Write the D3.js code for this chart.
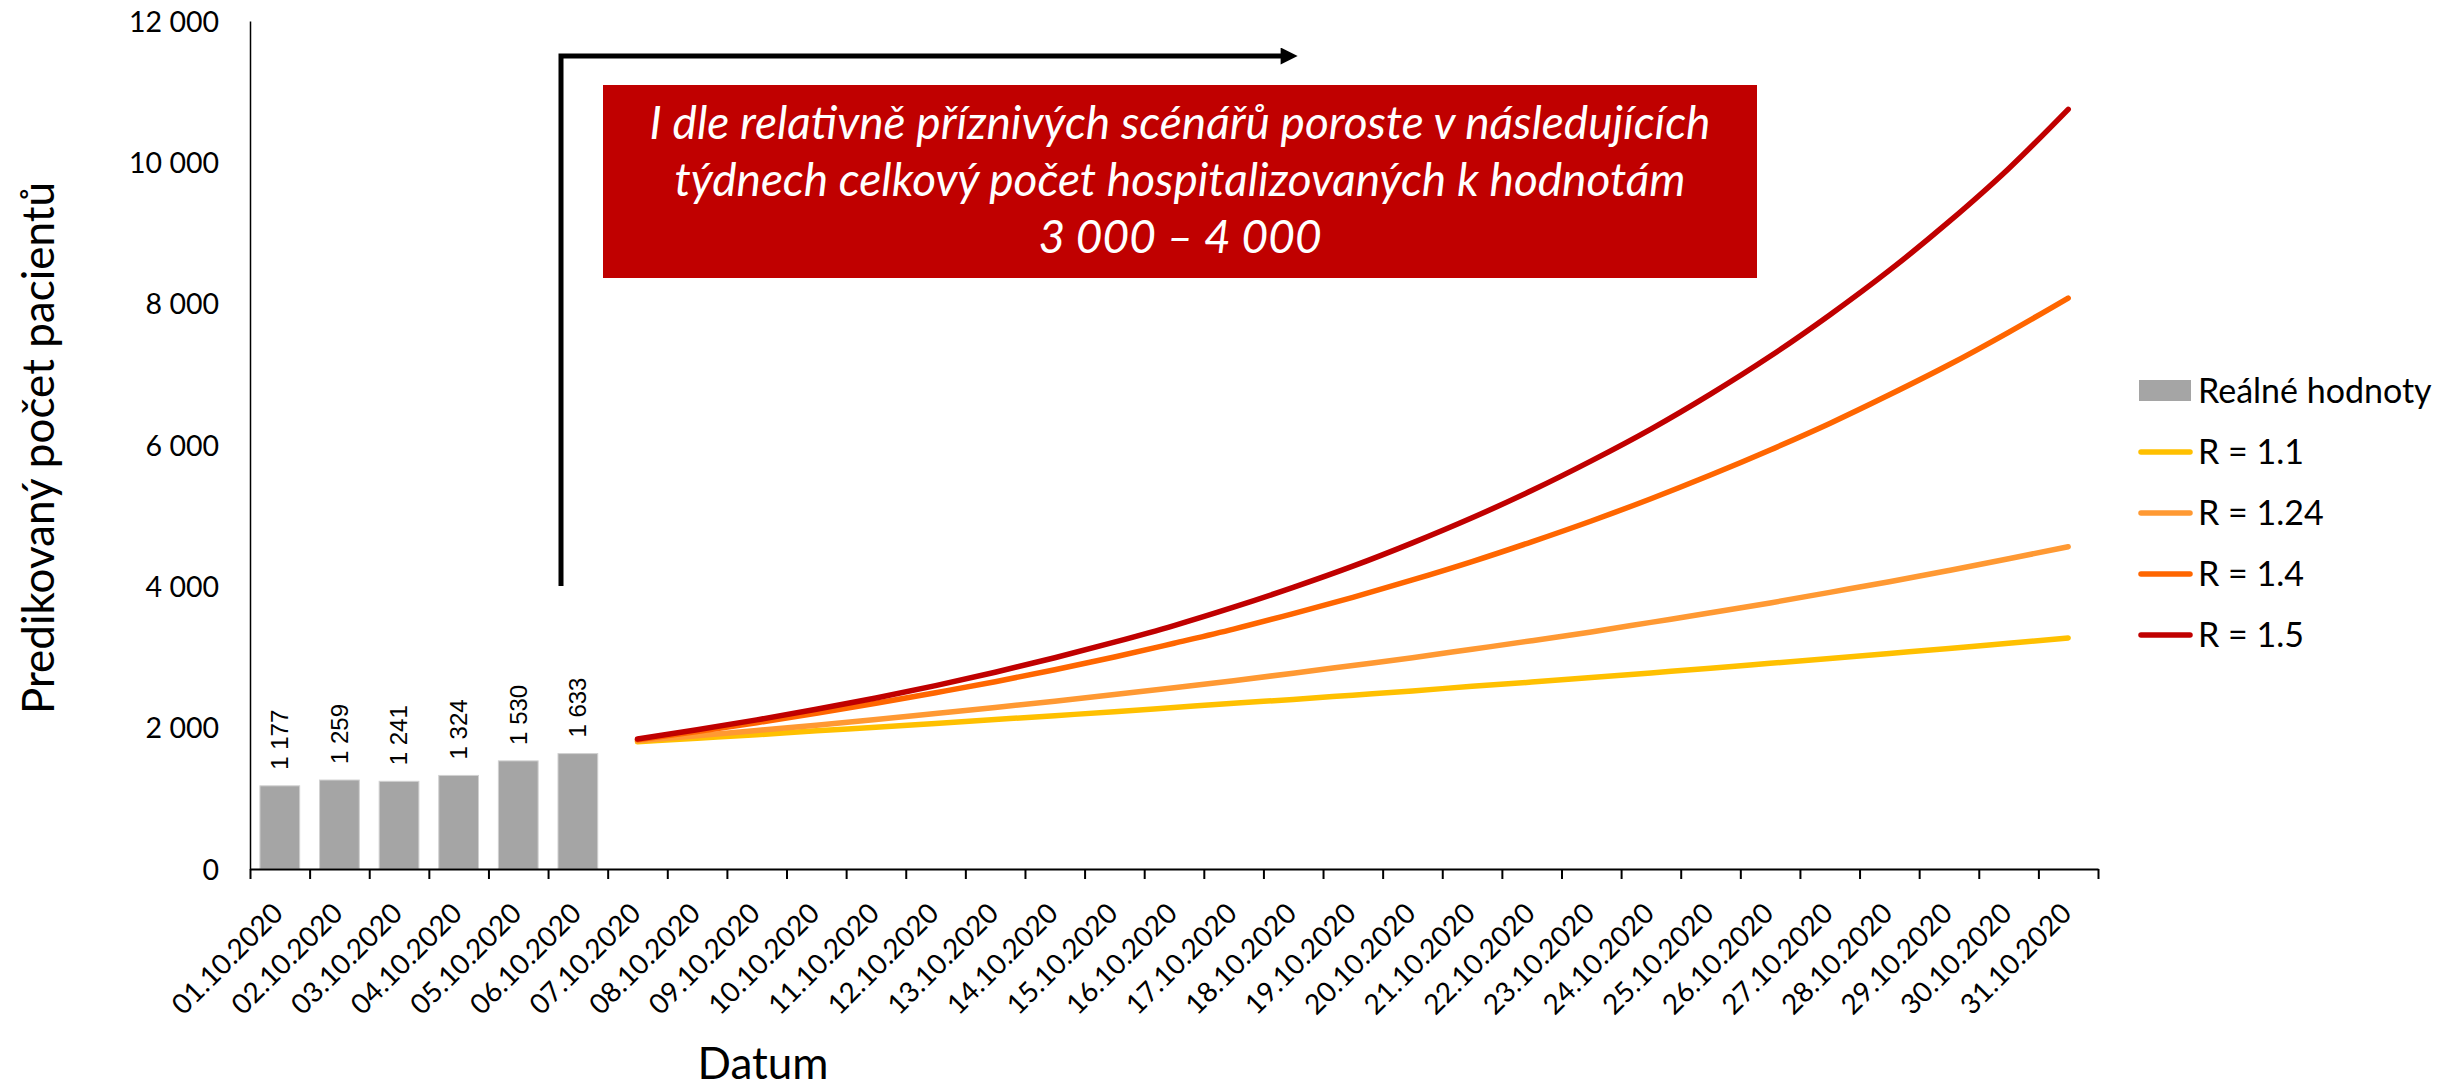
<!DOCTYPE html>
<html>
<head>
<meta charset="utf-8">
<script src="https://cdn.jsdelivr.net/npm/d3@7"></script>
<style>
  html, body { margin: 0; padding: 0; background: #ffffff; }
  svg { display: block; }
  text { font-family: Lato, "Open Sans", sans-serif; fill: #000; }
</style>
</head>
<body>
<script>
// ---------------- DATA ----------------
const dates = ["01.10.2020","02.10.2020","03.10.2020","04.10.2020","05.10.2020","06.10.2020","07.10.2020",
  "08.10.2020","09.10.2020","10.10.2020","11.10.2020","12.10.2020","13.10.2020","14.10.2020","15.10.2020",
  "16.10.2020","17.10.2020","18.10.2020","19.10.2020","20.10.2020","21.10.2020","22.10.2020","23.10.2020",
  "24.10.2020","25.10.2020","26.10.2020","27.10.2020","28.10.2020","29.10.2020","30.10.2020","31.10.2020"];
const realDates = ["01.10.2020","02.10.2020","03.10.2020","04.10.2020","05.10.2020","06.10.2020"];
const realValues = [1177, 1259, 1241, 1324, 1530, 1633];
const predDates = dates.slice(6); // 07.10 - 31.10
const r11  = [1800,1850,1900,1955,2005,2060,2115,2170,2225,2285,2345,2400,2460,2520,2585,2645,2710,2775,2840,2910,2980,3050,3120,3195,3270];
const r124 = [1815,1885,1960,2035,2115,2200,2285,2375,2470,2565,2665,2770,2880,2990,3110,3230,3355,3490,3625,3765,3915,4065,4225,4390,4560];
const r14  = [1830,1945,2070,2205,2345,2495,2650,2820,3000,3195,3395,3615,3845,4090,4350,4630,4925,5240,5575,5930,6305,6710,7135,7595,8080];
const r15  = [1840,1970,2110,2260,2420,2595,2785,2990,3210,3445,3705,3985,4285,4615,4970,5355,5775,6225,6720,7255,7840,8470,9160,9910,10750];
const seriesNames = ["R = 1.1","R = 1.24","R = 1.4","R = 1.5"];
const seriesColors = ["#FFC000","#FF9933","#FF6600","#C00000"];
const yTicks = [0,2000,4000,6000,8000,10000,12000];
const legendBarName = "Reálné hodnoty";
const yTitle = "Predikovaný počet pacientů";
const xTitle = "Datum";
const boxLines = ["I dle relativně příznivých scénářů poroste v následujících",
                  "týdnech celkový počet hospitalizovaných k hodnotám",
                  "3 000 – 4 000"];

// ---------------- LAYOUT ----------------
const W = 2443, H = 1089;
const svg = d3.select("body").append("svg").attr("width", W).attr("height", H);

const x0 = 250, x1 = 2098, yTop = 21, yBot = 869;
const x = d3.scaleBand().domain(dates).range([x0, x1]).paddingInner(1/3).paddingOuter(1/6);
const xEdge = d3.scaleLinear().domain([0, dates.length]).range([x0, x1]);
const y = d3.scaleLinear().domain([0, 12000]).range([yBot, yTop]);

const loc = d3.formatLocale({decimal: ",", thousands: " ", grouping: [3], currency: ["", ""]});
const fmt = loc.format(",d");

// Y axis
const yAxis = svg.append("g").attr("transform", `translate(${x0},0)`)
  .call(d3.axisLeft(y).tickValues(yTicks).tickSize(0).tickPadding(31).tickFormat(fmt));
yAxis.select(".domain").attr("stroke", "#000").attr("stroke-width", 1.5);
yAxis.selectAll("text").style("font-family", "Lato").style("font-size", "28.5px").attr("dy", "0.36em");

// Bars
svg.append("g").selectAll("rect").data(realValues).join("rect")
  .attr("x", (d, i) => x(realDates[i]))
  .attr("width", x.bandwidth())
  .attr("y", d => y(d))
  .attr("height", d => y(0) - y(d))
  .attr("fill", "#A5A5A5")
  .attr("stroke", "#D0D0D0").attr("stroke-width", 1);

// Bar labels
svg.append("g").selectAll("text").data(realValues).join("text")
  .attr("transform", (d, i) => `translate(${x(realDates[i]) + x.bandwidth()/2},${y(d) - 16}) rotate(-90)`)
  .attr("text-anchor", "start")
  .attr("dy", "0.35em")
  .style("font-family", "'Liberation Sans', Arial, sans-serif")
  .style("font-size", "24px")
  .text(d => fmt(d));

// X axis: ticks between categories
const xTickAxis = svg.append("g").attr("transform", `translate(0,${yBot})`)
  .call(d3.axisBottom(xEdge).tickValues(d3.range(0, dates.length + 1)).tickSize(10).tickSizeOuter(0).tickFormat(""));
xTickAxis.select(".domain").attr("stroke", "#000").attr("stroke-width", 2);
xTickAxis.selectAll(".tick line").attr("stroke", "#000").attr("stroke-width", 2);

// X labels
const xLab = svg.append("g").attr("transform", `translate(0,${yBot})`)
  .call(d3.axisBottom(x).tickSize(0));
xLab.select(".domain").remove();
xLab.selectAll("text")
  .attr("x", 0).attr("y", 0).attr("dy", 0)
  .attr("text-anchor", "end")
  .attr("transform", "translate(5,46) rotate(-45)")
  .style("font-family", "Lato").style("font-size", "28px");

// Lines
const allSeries = [r11, r124, r14, r15];
const line = d3.line()
  .x((d, i) => x(predDates[i]) + x.bandwidth()/2)
  .y(d => y(d))
  .curve(d3.curveMonotoneX);
svg.append("g").selectAll("path").data(allSeries).join("path")
  .attr("d", d => line(d))
  .attr("fill", "none")
  .attr("stroke", (d, i) => seriesColors[i])
  .attr("stroke-width", 5.5)
  .attr("stroke-linecap", "round")
  .attr("stroke-linejoin", "round");

// Arrow annotation
const defs = svg.append("defs");
defs.append("marker").attr("id", "arrowhead")
  .attr("viewBox", "0 0 10 10").attr("refX", 2).attr("refY", 5)
  .attr("markerWidth", 4).attr("markerHeight", 3.4).attr("orient", "auto")
  .attr("markerUnits", "strokeWidth")
  .append("path").attr("d", "M0,0 L10,5 L0,10 z").attr("fill", "#000");
svg.append("path")
  .attr("d", d3.line()([[561, 586], [561, 56], [1284, 56]]))
  .attr("fill", "none").attr("stroke", "#000").attr("stroke-width", 5)
  .attr("marker-end", "url(#arrowhead)");

// Red box
svg.append("rect").attr("x", 603).attr("y", 85).attr("width", 1154).attr("height", 193).attr("fill", "#C00000");
svg.append("g").selectAll("text").data(boxLines).join("text")
  .attr("x", 1180).attr("y", (d, i) => 139 + i * 57)
  .attr("text-anchor", "middle")
  .style("font-family", "Lato").style("font-style", "italic").style("font-size", "46px")
  .style("fill", "#ffffff")
  .text(d => d);

// Axis titles
svg.append("text").attr("transform", `translate(54,448) rotate(-90)`)
  .attr("text-anchor", "middle").style("font-size", "44px").text(yTitle);
svg.append("text").attr("x", 763).attr("y", 1079)
  .attr("text-anchor", "middle").style("font-size", "44px").text(xTitle);

// Legend
const lg = svg.append("g");
lg.append("rect").attr("x", 2139).attr("y", 380).attr("width", 52).attr("height", 21).attr("fill", "#A5A5A5");
lg.append("text").attr("x", 2198).attr("y", 391).attr("dy", "0.35em").style("font-size", "34px").text(legendBarName);
seriesNames.forEach((n, i) => {
  const cy = 452 + i * 61;
  lg.append("line").attr("x1", 2141).attr("x2", 2190).attr("y1", cy).attr("y2", cy)
    .attr("stroke", seriesColors[i]).attr("stroke-width", 5.5).attr("stroke-linecap", "round");
  lg.append("text").attr("x", 2198).attr("y", cy).attr("dy", "0.35em").style("font-size", "34px").text(n);
});
</script>
</body>
</html>
